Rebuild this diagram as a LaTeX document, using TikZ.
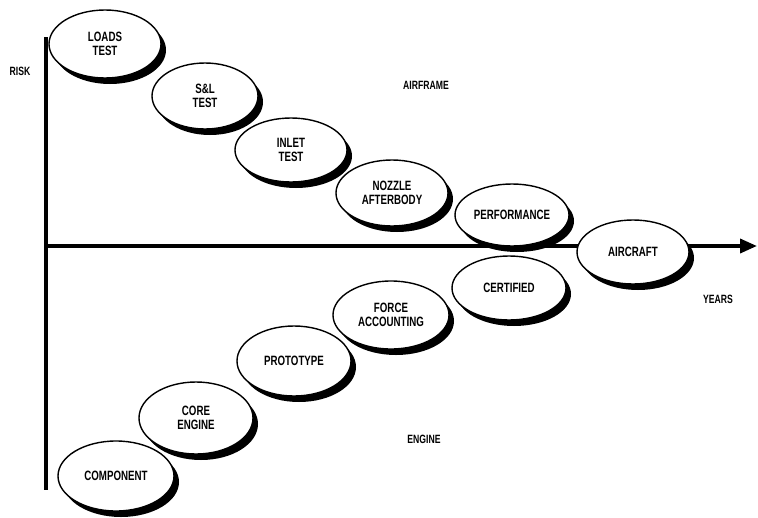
\documentclass[tikz,border=0pt]{standalone}
\usepackage{fontspec}
\newfontfamily\lblfont{Liberation Sans}[FakeStretch=0.72]
\usetikzlibrary{shapes.geometric,shadows,arrows.meta}
\tikzset{
  oval/.style={ellipse, draw=black, line width=1.4pt, fill=white,
    minimum width=116pt, minimum height=70pt, inner sep=0pt, align=center,
    font=\lblfont\bfseries\fontsize{13.5}{14.5}\selectfont,
    drop shadow={shadow xshift=5pt, shadow yshift=-6pt, fill=black, opacity=1}},
  axislabel/.style={font=\lblfont\bfseries\fontsize{12}{13}\selectfont},
  axisline/.style={line width=3.6pt, black}
}
\begin{document}
\begin{tikzpicture}[x=1pt,y=-1pt]
\useasboundingbox (0,0) rectangle (758,517);
% axes
\coordinate (top) at (46,37);
\coordinate (bot) at (46,490);
\coordinate (o) at (46,246);
\coordinate (end) at (757,246);
\draw[axisline] (top) -- (bot);
\draw[axisline, -{Triangle[length=17pt,width=14pt]}] (o) -- (end);
% axis labels
\node[axislabel] (risk) at (20,71) {RISK};
\node[axislabel] (years) at (718,299) {YEARS};
\node[axislabel] (airframe) at (426,85) {AIRFRAME};
\node[axislabel] (engine) at (424,439) {ENGINE};
% airframe steps
\node[oval, minimum width=112pt, minimum height=68pt] (loads) at (105,44) {LOADS\\TEST};
\node[oval, minimum width=106pt, minimum height=66pt] (sl) at (205,96) {S\&L\\TEST};
\node[oval, minimum width=112pt, minimum height=64pt] (inlet) at (291,150) {INLET\\TEST};
\node[oval, minimum width=112pt, minimum height=66pt] (nozzle) at (392,193) {NOZZLE\\AFTERBODY};
\node[oval, minimum width=114pt, minimum height=62pt] (perf) at (512,215) {PERFORMANCE};
\node[oval, minimum width=112pt, minimum height=64pt] (aircraft) at (633,252) {AIRCRAFT};
% engine steps
\node[oval, minimum width=114pt, minimum height=64pt] (cert) at (509,288) {CERTIFIED};
\node[oval, minimum width=116pt, minimum height=68pt] (force) at (391,315) {FORCE\\ACCOUNTING};
\node[oval, minimum width=114pt, minimum height=70pt] (proto) at (294,361) {PROTOTYPE};
\node[oval, minimum width=114pt, minimum height=72pt] (core) at (196,418) {CORE\\ENGINE};
\node[oval, minimum width=116pt, minimum height=70pt] (comp) at (116,476) {COMPONENT};
\end{tikzpicture}
\end{document}
